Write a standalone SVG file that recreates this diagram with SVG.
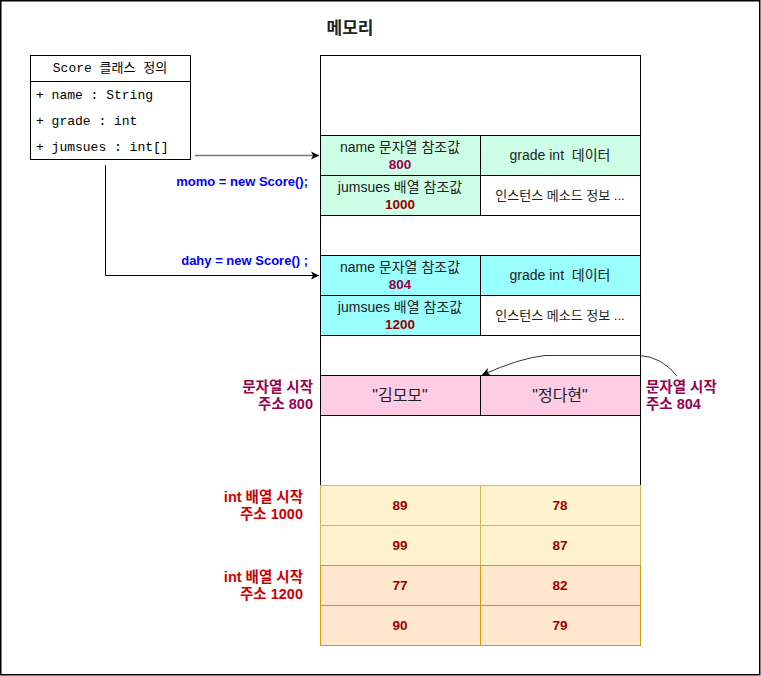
<svg xmlns="http://www.w3.org/2000/svg" width="761" height="676" viewBox="0 0 761 676">
<defs>
<marker id="ah" markerWidth="10" markerHeight="10" refX="9" refY="5" orient="auto" markerUnits="userSpaceOnUse">
<path d="M1,1 L9,5 L1,9 L3,5 Z" fill="#000"/>
</marker>
<style>
text{font-family:"Liberation Sans","Noto Sans CJK KR",Arial,sans-serif;white-space:pre;}
.mono{font-family:"Liberation Mono","Noto Sans CJK KR",monospace;font-size:13px;fill:#000;}
.cell{font-size:14px;fill:#222;text-anchor:middle;dominant-baseline:central;}
.small{font-size:13px;fill:#222;text-anchor:middle;dominant-baseline:central;}
.num{font-size:13.5px;font-weight:bold;text-anchor:middle;dominant-baseline:central;}
.mag{fill:#99004D;}
.red{fill:#990000;}
.lbl{font-size:14.5px;font-weight:bold;dominant-baseline:central;}
.end{text-anchor:end;}
.start{text-anchor:start;}
.blue{font-size:13px;font-weight:bold;fill:#0000FF;text-anchor:end;dominant-baseline:central;}
.b{stroke:#000;stroke-width:1;}
</style>
</defs>
<rect x="0" y="0" width="761" height="676" fill="#fff"/>
<rect x="0.75" y="0.75" width="759" height="674" fill="none" stroke="#000" stroke-width="1.5"/>
<text x="350" y="28" font-size="17" font-weight="bold" fill="#222" text-anchor="middle" dominant-baseline="central">메모리</text>

<g id="class-score">
<rect x="30.5" y="55.5" width="160" height="104" fill="#fff" class="b"/>
<line x1="30.5" y1="81.5" x2="190.5" y2="81.5" class="b"/>
<text class="mono" x="110" y="68" text-anchor="middle" dominant-baseline="central">Score 클래스 정의</text>
<text class="mono" x="36" y="95" dominant-baseline="central">+ name : String</text>
<text class="mono" x="36" y="121" dominant-baseline="central">+ grade : int</text>
<text class="mono" x="36" y="147" dominant-baseline="central">+ jumsues : int[]</text>
</g>

<g id="memory">
<rect x="320.5" y="55.5" width="320" height="430" fill="#fff" class="b"/>
</g>

<g id="momo-obj">
<rect x="320.5" y="135.5" width="160" height="40" fill="#CCFFE6" class="b"/>
<rect x="480.5" y="135.5" width="160" height="40" fill="#CCFFE6" class="b"/>
<rect x="320.5" y="175.5" width="160" height="40" fill="#CCFFE6" class="b"/>
<rect x="480.5" y="175.5" width="160" height="40" fill="#fff" class="b"/>
<text class="cell" x="400" y="147">name 문자열 참조값</text>
<text class="num mag" x="400" y="164">800</text>
<text class="cell" x="560" y="155">grade int  데이터</text>
<text class="cell" x="400" y="187">jumsues 배열 참조값</text>
<text class="num red" x="400" y="204">1000</text>
<text class="small" x="560" y="195">인스턴스 메소드 정보 ...</text>
</g>

<g id="dahy-obj">
<rect x="320.5" y="255.5" width="160" height="40" fill="#99FFFF" class="b"/>
<rect x="480.5" y="255.5" width="160" height="40" fill="#99FFFF" class="b"/>
<rect x="320.5" y="295.5" width="160" height="40" fill="#99FFFF" class="b"/>
<rect x="480.5" y="295.5" width="160" height="40" fill="#fff" class="b"/>
<text class="cell" x="400" y="267">name 문자열 참조값</text>
<text class="num mag" x="400" y="284">804</text>
<text class="cell" x="560" y="275">grade int  데이터</text>
<text class="cell" x="400" y="307">jumsues 배열 참조값</text>
<text class="num red" x="400" y="324">1200</text>
<text class="small" x="560" y="315">인스턴스 메소드 정보 ...</text>
</g>

<g id="strings">
<rect x="320.5" y="375.5" width="160" height="40" fill="#FFCCE6" class="b"/>
<rect x="480.5" y="375.5" width="160" height="40" fill="#FFCCE6" class="b"/>
<text class="cell" x="400" y="395" style="font-size:16px">"김모모"</text>
<text class="cell" x="560" y="395" style="font-size:16px">"정다현"</text>
</g>

<g id="array-1000">
<rect x="320.5" y="485.5" width="160" height="40" fill="#FFF2CC" stroke="#D6B656"/>
<rect x="480.5" y="485.5" width="160" height="40" fill="#FFF2CC" stroke="#D6B656"/>
<rect x="320.5" y="525.5" width="160" height="40" fill="#FFF2CC" stroke="#D6B656"/>
<rect x="480.5" y="525.5" width="160" height="40" fill="#FFF2CC" stroke="#D6B656"/>
<text class="num red" x="400" y="505">89</text>
<text class="num red" x="560" y="505">78</text>
<text class="num red" x="400" y="545">99</text>
<text class="num red" x="560" y="545">87</text>
</g>

<g id="array-1200">
<rect x="320.5" y="565.5" width="160" height="40" fill="#FFE6CC" stroke="#D79B00"/>
<rect x="480.5" y="565.5" width="160" height="40" fill="#FFE6CC" stroke="#D79B00"/>
<rect x="320.5" y="605.5" width="160" height="40" fill="#FFE6CC" stroke="#D79B00"/>
<rect x="480.5" y="605.5" width="160" height="40" fill="#FFE6CC" stroke="#D79B00"/>
<text class="num red" x="400" y="585">77</text>
<text class="num red" x="560" y="585">82</text>
<text class="num red" x="400" y="625">90</text>
<text class="num red" x="560" y="625">79</text>
</g>

<g id="labels">
<text class="lbl end mag" x="313" y="387">문자열 시작</text>
<text class="lbl end mag" x="313" y="404">주소 800</text>
<text class="lbl start mag" x="646" y="387">문자열 시작</text>
<text class="lbl start mag" x="646" y="404">주소 804</text>
<text class="lbl end" fill="#CC0000" x="303" y="497">int 배열 시작</text>
<text class="lbl end" fill="#CC0000" x="303" y="514">주소 1000</text>
<text class="lbl end" fill="#CC0000" x="303" y="577">int 배열 시작</text>
<text class="lbl end" fill="#CC0000" x="303" y="594">주소 1200</text>
<text class="blue" x="308" y="181">momo = new Score();</text>
<text class="blue" x="308" y="260">dahy = new Score() ;</text>
</g>

<g id="connectors" fill="none">
<line x1="195" y1="155.5" x2="319" y2="155.5" stroke="#777" stroke-width="1.5" marker-end="url(#ah)"/>
<polyline points="105.5,165 105.5,275.5 319,275.5" stroke="#000" stroke-width="1" marker-end="url(#ah)"/>
<path d="M677,376 Q662,357 640,355.5 L545,355.5 Q520,358 482,375" stroke="#333" stroke-width="1" marker-end="url(#ah)"/>
</g>
</svg>
